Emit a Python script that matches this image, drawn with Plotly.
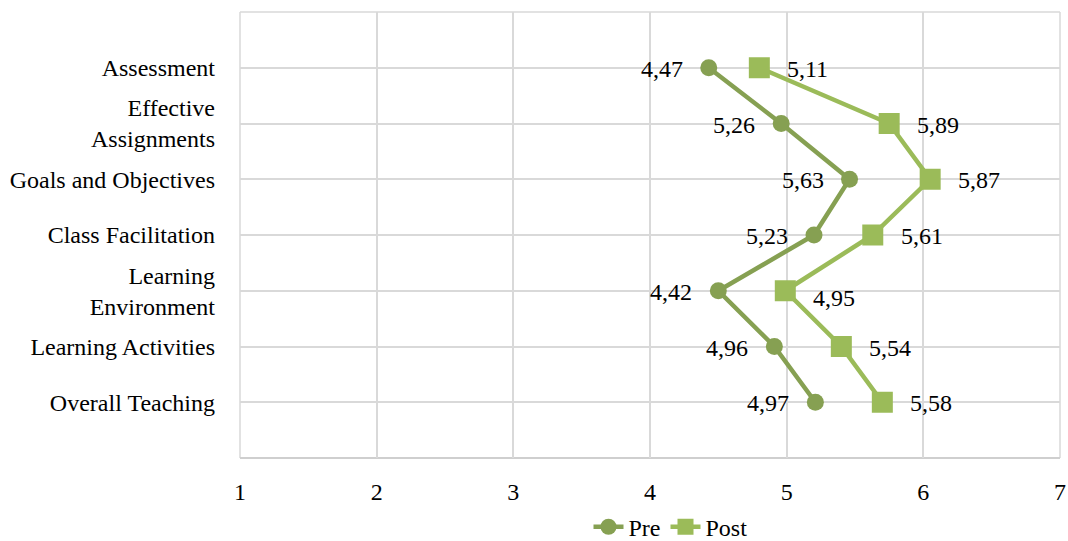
import plotly.graph_objects as go

categories = ["Assessment", "Effective<br>Assignments", "Goals and Objectives",
              "Class Facilitation", "Learning<br>Environment", "Learning Activities",
              "Overall Teaching"]
pre_values = [4.43, 4.96, 5.46, 5.20, 4.50, 4.91, 5.21]
post_values = [4.80, 5.75, 6.05, 5.63, 4.99, 5.40, 5.70]
pre_labels = ["4,47", "5,26", "5,63", "5,23", "4,42", "4,96", "4,97"]
post_labels = ["5,11", "5,89", "5,87", "5,61", "4,95", "5,54", "5,58"]
x_ticks = [1, 2, 3, 4, 5, 6, 7]

FONT = "Liberation Serif"
pre_color = "#86A052"
post_color = "#9BBB59"
grid_color = "#D9D9D9"

rows = list(range(1, len(categories) + 1))

fig = go.Figure()
fig.add_trace(go.Scatter(
    x=pre_values, y=rows, name="Pre", mode="lines+markers",
    line=dict(color=pre_color, width=4.5),
    marker=dict(symbol="circle", size=17, color=pre_color),
    cliponaxis=False,
))
fig.add_trace(go.Scatter(
    x=post_values, y=rows, name="Post", mode="lines+markers",
    line=dict(color=post_color, width=4.5),
    marker=dict(symbol="square", size=21, color=post_color),
    cliponaxis=False,
))

annotations = []
for v, r, t in zip(pre_values, rows, pre_labels):
    annotations.append(dict(x=v, y=r, xref="x", yref="y", text=t, showarrow=False,
                            xanchor="right", yanchor="middle", xshift=-24, yshift=-1,
                            font=dict(family=FONT, size=24, color="black")))
for i, (v, r, t) in enumerate(zip(post_values, rows, post_labels)):
    annotations.append(dict(x=v, y=r, xref="x", yref="y", text=t, showarrow=False,
                            xanchor="left", yanchor="middle", xshift=26,
                            yshift=-7 if i == 4 else -1,
                            font=dict(family=FONT, size=24, color="black")))

fig.update_layout(
    width=1068, height=541,
    margin=dict(l=240, r=8, t=12, b=83, autoexpand=False),
    paper_bgcolor="white", plot_bgcolor="white",
    font=dict(family=FONT, size=24, color="black"),
    showlegend=True,
    legend=dict(orientation="h", x=0.525, xanchor="center", y=-0.155, yanchor="middle",
                font=dict(family=FONT, size=24), itemwidth=30,
                tracegroupgap=0, itemclick=False, bgcolor="rgba(0,0,0,0)"),
    xaxis=dict(range=[1, 7], tickvals=x_ticks, ticktext=[str(t) for t in x_ticks],
               showgrid=True, gridcolor=grid_color, gridwidth=1.5,
               zeroline=False, showline=False, ticks="", ticklabelstandoff=17,
               ticklabeloverflow="allow",
               tickfont=dict(family=FONT, size=24)),
    yaxis=dict(range=[8, 0], tickvals=list(range(0, len(categories) + 2)),
               ticktext=[""] + categories + [""],
               showgrid=True, gridcolor=grid_color, gridwidth=1.5,
               zeroline=False, showline=False, ticks="", ticklabelstandoff=24,
               tickfont=dict(family=FONT, size=24)),
    annotations=annotations,
    shapes=[
        dict(type="line", xref="paper", yref="paper", x0=0, x1=1, y0=1, y1=1,
             line=dict(color=grid_color, width=1.5), layer="below"),
        dict(type="line", xref="paper", yref="paper", x0=0, x1=0, y0=0, y1=1,
             line=dict(color=grid_color, width=1.5), layer="below"),
        dict(type="line", xref="paper", yref="paper", x0=1, x1=1, y0=0, y1=1,
             line=dict(color=grid_color, width=1.5), layer="below"),
        dict(type="line", xref="paper", yref="paper", x0=0, x1=1, y0=0, y1=0,
             line=dict(color="#CFCFCF", width=2), layer="below"),
    ],
)

fig.write_html(
    "out.html",
    config={"displayModeBar": False},
    post_script="document.body.style.margin='0';document.body.style.overflow='hidden';",
)
